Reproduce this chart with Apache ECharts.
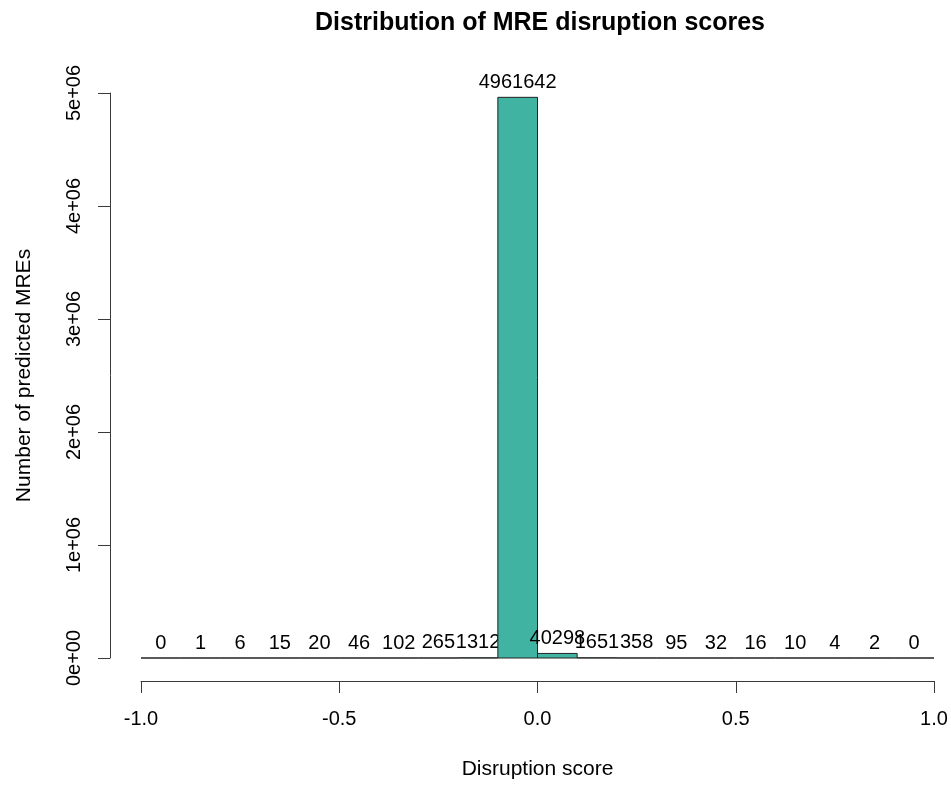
<!DOCTYPE html>
<html>
<head>
<meta charset="utf-8">
<script src="https://cdn.jsdelivr.net/npm/echarts@6/dist/echarts.min.js"></script>
<style>
html,body{margin:0;padding:0;background:#fff;overflow:hidden;}
#chart{width:951px;height:785px;}
</style>
</head>
<body>
<div id="chart"></div>
<script>
// Histogram bin edges (width 0.1 from -1 to 1)
var binEdges = [-1.0,-0.9,-0.8,-0.7,-0.6,-0.5,-0.4,-0.3,-0.2,-0.1,0.0,0.1,0.2,0.3,0.4,0.5,0.6,0.7,0.8,0.9,1.0];
// Counts per bin
var counts = [0,1,6,15,20,46,102,265,1312,4961642,40298,1651,358,95,32,16,10,4,2,0];
// Tick labels
var xTickValues = [-1.0,-0.5,0.0,0.5,1.0];
var xTickLabels = ['-1.0','-0.5','0.0','0.5','1.0'];
var yTickValues = [0,1e6,2e6,3e6,4e6,5e6];
var yTickLabels = ['0e+00','1e+06','2e+06','3e+06','4e+06','5e+06'];

var titleText = 'Distribution of MRE disruption scores';
var xTitle = 'Disruption score';
var yTitle = 'Number of predicted MREs';

var FONT = '"Liberation Sans", Arial, Helvetica, sans-serif';
var BAR_COLOR = '#41b3a2';
var AXIS_COLOR = '#3a3a3a';

var data = [];
for (var i = 0; i < counts.length; i++) {
  data.push([binEdges[i], binEdges[i+1], counts[i]]);
}

function labelFor(list, labels, v) {
  for (var k = 0; k < list.length; k++) {
    if (Math.abs(list[k] - v) < 1e-9 * Math.max(1, Math.abs(v))) return labels[k];
  }
  return '';
}

var chart = echarts.init(document.getElementById('chart'), null, {renderer: 'canvas'});
chart.setOption({
  backgroundColor: '#ffffff',
  animation: false,
  graphic: [{
    type: 'text',
    x: 540,
    y: 23,
    style: {
      text: titleText,
      font: 'bold 25px ' + FONT,
      fill: '#000',
      align: 'center',
      verticalAlign: 'middle'
    }
  }],
  grid: {left: 141, right: 17, top: 93, height: 570},
  xAxis: {
    type: 'value',
    min: -1, max: 1, interval: 0.5,
    offset: 23,
    name: xTitle,
    nameLocation: 'middle',
    nameGap: 78,
    nameTextStyle: {fontFamily: FONT, fontSize: 21, color: '#000'},
    axisLine: {show: true, onZero: false, lineStyle: {color: AXIS_COLOR, width: 1}},
    axisTick: {show: true, length: 12, lineStyle: {color: AXIS_COLOR, width: 1}},
    axisLabel: {
      margin: 28, fontFamily: FONT, fontSize: 20, color: '#000',
      formatter: function (v) { return labelFor(xTickValues, xTickLabels, v); }
    },
    splitLine: {show: false}
  },
  yAxis: {
    type: 'value',
    min: 0, max: 5e6, interval: 1e6,
    offset: 31,
    name: yTitle,
    nameLocation: 'middle',
    nameRotate: 90,
    nameGap: 75,
    nameTextStyle: {fontFamily: FONT, fontSize: 21, color: '#000'},
    axisLine: {show: true, onZero: false, lineStyle: {color: AXIS_COLOR, width: 1}},
    axisTick: {show: true, length: 12, lineStyle: {color: AXIS_COLOR, width: 1}},
    axisLabel: {
      rotate: 90, margin: 26, fontFamily: FONT, fontSize: 20, color: '#000',
      formatter: function (v) { return labelFor(yTickValues, yTickLabels, v); }
    },
    splitLine: {show: false}
  },
  series: [{
    type: 'custom',
    clip: false,
    data: data,
    encode: {x: [0, 1], y: 2},
    renderItem: function (params, api) {
      var x0 = api.value(0), x1 = api.value(1), c = api.value(2);
      var p0 = api.coord([x0, 0]);
      var p1 = api.coord([x1, c]);
      return {
        type: 'group',
        children: [{
          type: 'rect',
          shape: {x: p0[0], y: p1[1], width: p1[0] - p0[0], height: p0[1] - p1[1]},
          style: {fill: BAR_COLOR, stroke: '#222', lineWidth: 1}
        }, {
          type: 'text',
          x: (p0[0] + p1[0]) / 2,
          y: p1[1] - 15,
          style: {
            text: String(c),
            font: '20px ' + FONT,
            fill: '#000',
            align: 'center',
            verticalAlign: 'middle'
          }
        }]
      };
    }
  }]
});
</script>
</body>
</html>
